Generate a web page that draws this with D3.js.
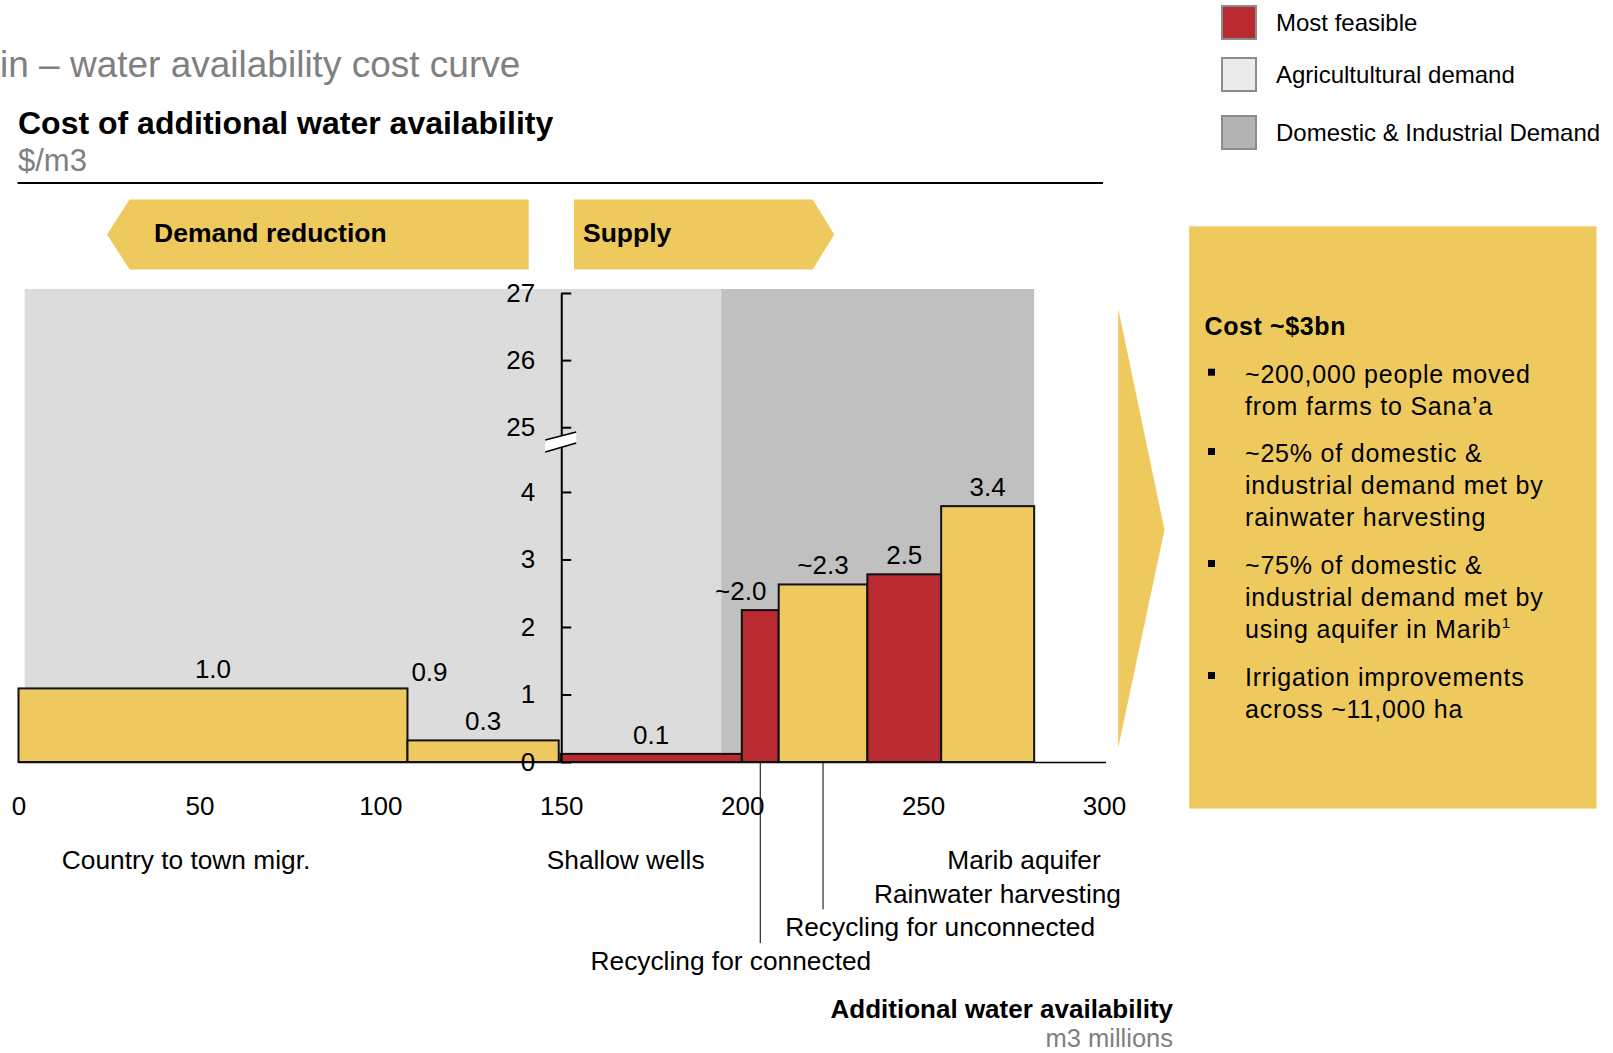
<!DOCTYPE html>
<html>
<head>
<meta charset="utf-8">
<script src="https://cdn.jsdelivr.net/npm/d3@7"></script>
<style>
  body { margin: 0; background: #fff; }
  svg { display: block; font-family: "Liberation Sans", Arial, Helvetica, sans-serif; }
</style>
</head>
<body>
<div id="chart"></div>
<script>
// ---- data ----
const barNames = ["Country to town migr.", "", "Shallow wells", "Recycling for connected",
    "Recycling for unconnected", "Rainwater harvesting", "Marib aquifer"];
const barStart = [0, 107.5, 149.8, 199.9, 210.1, 234.6, 255.0];
const barEnd = [107.5, 149.3, 199.9, 210.1, 234.6, 255.0, 280.7];
const barCost = [1.09, 0.32, 0.12, 2.25, 2.63, 2.78, 3.79];
const barValueLabels = ["1.0", "0.3", "0.1", "~2.0", "~2.3", "2.5", "3.4"];
const barFeasible = [false, false, true, true, false, true, false];
const noteLabels = ["0.9"]; // printed at the right shoulder of the first bar

const xTicks = [0, 50, 100, 150, 200, 250, 300];
const yTicks = [0, 1, 2, 3, 4, 25, 26, 27];

const zoneNames = ["Agricultural", "Domestic & Industrial"];
const zoneStart = [1.7, 194.2];
const zoneEnd = [194.2, 280.7];

const legendLabels = ["Most feasible", "Agricultultural demand", "Domestic & Industrial Demand"];

const costHeadline = "Cost ~$3bn";
const costBullets = [
    ["~200,000 people moved", "from farms to Sana\u2019a"],
    ["~25% of domestic &", "industrial demand met by", "rainwater harvesting"],
    ["~75% of domestic &", "industrial demand met by", "using aquifer in Marib"],
    ["Irrigation improvements", "across ~11,000 ha"]
];

const YELLOW = "#EECA5E";
const RED = "#B92A31";
const GREY_TEXT = "#808080";

class CostCurve {

    constructor(opts) {
        Object.assign(this, opts);
        this.appendElements();
        this.update();
    }

    update() {
        this._setDimensions();
        this._setScales();
        this.render();
    }

    _setDimensions() {
        // plot box: x 0..300 spans the axis, y 27..0 spans the broken value axis
        this.margin = { top: 293, left: 18.5 };
        this.width = 1085.5;
        this.height = 469;
        this.breakY = 149;
    }

    _setScales() {
        this.xScale = d3.scaleLinear()
            .domain([0, 300])
            .range([0, this.width]);

        // broken axis: 0-4.74 below the break, 24.78-27 above it
        this.yScale = d3.scaleLinear()
            .domain([0, 4.74, 24.78, 27])
            .range([this.height, this.breakY, this.breakY, 0]);
    }

    appendElements() {
        this.svg = d3.select(this.element).append("svg");
        this.header = this.svg.append("g");
        this.legend = this.svg.append("g");
        this.banners = this.svg.append("g");

        this.plot = this.svg.append("g");
        this.zones = this.plot.append("g");
        this.xAxis = this.plot.append("g").classed("axis x-axis", true);
        this.bars = this.plot.append("g");
        this.yAxis = this.plot.append("g").classed("axis y-axis", true);
        this.labels = this.plot.append("g");

        this.panel = this.svg.append("g");
    }

    render() {
        const x = this.xScale;
        const y = this.yScale;

        this.svg.attr("width", 1613).attr("height", 1053);
        this.plot.attr("transform", `translate(${this.margin.left},${this.margin.top})`);

        // header
        this.header.append("text").attr("x", 0).attr("y", 77)
            .attr("font-size", 37).attr("fill", GREY_TEXT)
            .text("in \u2013 water availability cost curve");
        this.header.append("text").attr("x", 18).attr("y", 134)
            .attr("font-size", 32).attr("font-weight", "bold")
            .text("Cost of additional water availability");
        this.header.append("text").attr("x", 18).attr("y", 171)
            .attr("font-size", 31).attr("fill", GREY_TEXT)
            .text("$/m3");
        this.header.append("line")
            .attr("x1", 17.5).attr("x2", 1103).attr("y1", 183).attr("y2", 183)
            .attr("stroke", "#000").attr("stroke-width", 2);

        // legend
        const legendFill = [RED, "#EBEBEB", "#B3B3B3"];
        const legendY = [6, 58, 116];
        const item = this.legend.selectAll("g").data(legendLabels).join("g")
            .attr("transform", (d, i) => `translate(1222,${legendY[i]})`);
        item.append("rect").attr("width", 34).attr("height", 33)
            .attr("fill", (d, i) => legendFill[i])
            .attr("stroke", "#8c8c8c").attr("stroke-width", 2);
        item.append("text").attr("x", 54).attr("y", 25)
            .attr("font-size", 24).text(d => d);

        // demand / supply banners
        this.banners.append("polygon")
            .attr("points", "107,234.5 129.6,199.6 528.7,199.6 528.7,269.5 129.6,269.5")
            .attr("fill", YELLOW);
        this.banners.append("polygon")
            .attr("points", "574,199.6 812.7,199.6 834.3,234.5 812.7,269.5 574,269.5")
            .attr("fill", YELLOW);
        this.banners.append("text").attr("x", 154).attr("y", 242)
            .attr("font-size", 26.5).attr("font-weight", "bold").text("Demand reduction");
        this.banners.append("text").attr("x", 583).attr("y", 242)
            .attr("font-size", 26.5).attr("font-weight", "bold").text("Supply");

        // demand zones behind the bars
        const zoneFill = ["#DCDCDC", "#C0C0C0"];
        this.zones.selectAll("rect").data(zoneNames).join("rect")
            .attr("x", (d, i) => x(zoneStart[i]))
            .attr("width", (d, i) => x(zoneEnd[i]) - x(zoneStart[i]))
            .attr("y", y(27) - 4)
            .attr("height", y(0) - y(27) + 4)
            .attr("fill", (d, i) => zoneFill[i]);

        // x axis along the zero line
        this.xAxis
            .attr("transform", `translate(0,${y(0)})`)
            .call(d3.axisBottom(x).tickValues(xTicks).tickSize(0).tickSizeOuter(0).tickPadding(35));
        this.xAxis.attr("font-family", null).attr("font-size", 26);
        this.xAxis.select(".domain").attr("stroke-width", 1.5)
            .attr("d", `M0,0.5H${this.width + 2}`);

        // bars, widths are the volumes
        const bars = barNames.map((name, i) => ({
            name, x0: barStart[i], x1: barEnd[i], cost: barCost[i],
            label: barValueLabels[i], feasible: barFeasible[i]
        }));

        this.bars.selectAll("rect").data(bars).join("rect")
            .attr("x", d => x(d.x0))
            .attr("width", d => x(d.x1) - x(d.x0))
            .attr("y", d => y(d.cost))
            .attr("height", d => y(0) - y(d.cost))
            .attr("fill", d => d.feasible ? RED : YELLOW)
            .attr("stroke", "#111").attr("stroke-width", 2);

        // broken value axis at x = 150
        this.yAxis
            .attr("transform", `translate(${x(150)},0)`)
            .call(d3.axisLeft(y).tickValues(yTicks).tickSize(-10).tickSizeOuter(0).tickPadding(26));
        this.yAxis.attr("font-family", null).attr("font-size", 26);
        this.yAxis.selectAll("line, path").attr("stroke-width", 2);
        this.yAxis.append("polygon")
            .attr("points", `-16,${this.breakY + 10} 15,${this.breakY + 1} 15,${this.breakY - 10} -16,${this.breakY - 2}`)
            .attr("fill", "#fff");
        this.yAxis.append("path")
            .attr("d", `M-16,${this.breakY + 10}L15,${this.breakY + 1}M-16,${this.breakY - 2}L15,${this.breakY - 10}`)
            .attr("stroke", "#000").attr("stroke-width", 1.5);

        // value labels
        const labelShift = [0, 0, 0, -19.5, 0, 0, 0];
        this.labels.selectAll("text.value").data(bars).join("text")
            .attr("class", "value")
            .attr("x", (d, i) => (x(d.x0) + x(d.x1)) / 2 + labelShift[i])
            .attr("y", d => y(d.cost) - 10)
            .attr("text-anchor", "middle")
            .attr("font-size", 26)
            .text(d => d.label);

        this.labels.selectAll("text.note").data(noteLabels).join("text")
            .attr("class", "note")
            .attr("x", x(barEnd[0]) + 22)
            .attr("y", y(barCost[0]) - 7)
            .attr("text-anchor", "middle")
            .attr("font-size", 26)
            .text(d => d);

        // option names under the axis (layout: anchor, x in volume units, row)
        const nameLayout = [
            { anchor: "middle", at: 46.3, row: 0 },
            null,
            { anchor: "middle", at: 167.8, row: 0 },
            { anchor: "start", at: 158.1, row: 3, leader: true },
            { anchor: "start", at: 211.9, row: 2, leader: true },
            { anchor: "end", at: 304.7, row: 1 },
            { anchor: "end", at: 299.1, row: 0 }
        ];
        const rowY = r => y(0) + 107 + r * 33.7;

        bars.forEach((d, i) => {
            const l = nameLayout[i];
            if (!l) return;
            this.labels.append("text")
                .attr("x", x(l.at)).attr("y", rowY(l.row))
                .attr("text-anchor", l.anchor)
                .attr("font-size", 26.3)
                .text(d.name);
            if (l.leader) {
                const cx = (x(d.x0) + x(d.x1)) / 2;
                this.labels.append("line")
                    .attr("x1", cx).attr("x2", cx)
                    .attr("y1", y(0)).attr("y2", rowY(l.row) - 27)
                    .attr("stroke", "#000").attr("stroke-width", 1);
            }
        });

        // axis title
        this.labels.append("text")
            .attr("x", 1173 - this.margin.left).attr("y", 1018 - this.margin.top)
            .attr("text-anchor", "end").attr("font-size", 26).attr("font-weight", "bold")
            .text("Additional water availability");
        this.labels.append("text")
            .attr("x", 1173 - this.margin.left).attr("y", 1047 - this.margin.top)
            .attr("text-anchor", "end").attr("font-size", 25.5).attr("fill", GREY_TEXT)
            .text("m3 millions");

        // summary panel on the right
        this.panel.append("polygon")
            .attr("points", "1118.2,308.6 1164.5,529.8 1118.2,747.9")
            .attr("fill", YELLOW);
        this.panel.append("rect")
            .attr("x", 1189.2).attr("y", 226.3).attr("width", 407.3).attr("height", 582.3)
            .attr("fill", YELLOW);
        this.panel.append("text")
            .attr("x", 1204.6).attr("y", 335)
            .attr("font-size", 25).attr("font-weight", "bold").attr("letter-spacing", 0.6)
            .text(costHeadline);

        const bulletTop = [382.7, 462, 574, 686];
        costBullets.forEach((lines, b) => {
            this.panel.append("rect")
                .attr("x", 1208).attr("y", bulletTop[b] - 14)
                .attr("width", 7).attr("height", 7).attr("fill", "#000");
            lines.forEach((line, j) => {
                const t = this.panel.append("text")
                    .attr("x", 1245).attr("y", bulletTop[b] + j * 32)
                    .attr("font-size", 25).attr("letter-spacing", 0.8)
                    .text(line);
                if (b === 2 && j === lines.length - 1) {
                    t.append("tspan").attr("font-size", 15).attr("dy", -10).text("1");
                }
            });
        });
    }
}

new CostCurve({ element: document.getElementById("chart") });
</script>
</body>
</html>
